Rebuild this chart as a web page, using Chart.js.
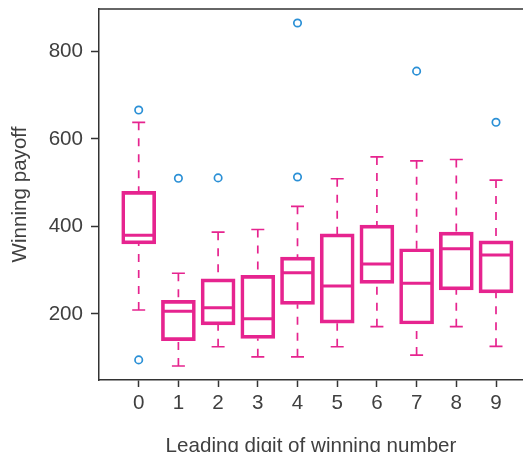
<!DOCTYPE html>
<html>
<head>
<meta charset="utf-8">
<script src="https://cdn.jsdelivr.net/npm/chart.js@4"></script>
<style>
  html, body { margin: 0; padding: 0; background: #fff; }
  #wrap { width: 523px; height: 452px; }
</style>
</head>
<body>
<div id="wrap"><canvas id="box"></canvas></div>
<script>
// leading digit categories and box stats
const digits = [0, 1, 2, 3, 4, 5, 6, 7, 8, 9]
const whiskerLow = [209, 81, 125, 102, 102, 125, 171, 106, 171, 126]
const q1 = [360, 139, 175, 144, 222, 179, 270, 177, 255, 248]
const medians = [380, 206, 214, 189, 294, 264, 314, 270, 349, 335]
const q3 = [480, 231, 280, 288, 330, 383, 403, 349, 387, 367]
const whiskerHigh = [638, 293, 387, 393, 446, 509, 559, 550, 553, 506]
const outlierDigit = [0, 0, 1, 2, 4, 4, 7, 9]
const outlierValue = [666, 95, 510, 511, 865, 513, 755, 638]
const yTicks = [200, 400, 600, 800]

const pink = '#e6248f'
const blue = '#2b90d6'
const ink = '#404040'

Chart.defaults.font.family = "'Liberation Sans', Arial, sans-serif"
Chart.defaults.font.size = 20.6
Chart.defaults.color = ink

// whiskers, caps, medians and the top frame line
const boxExtras = {
  id: 'boxExtras',
  afterDatasetsDraw(chart) {
    const ctx = chart.ctx
    const x = chart.scales.x
    const y = chart.scales.y
    ctx.save()
    ctx.strokeStyle = pink
    digits.forEach((d, i) => {
      const px = x.getPixelForValue(d)
      // dashed whiskers
      ctx.lineWidth = 1.7
      ctx.setLineDash([8, 8])
      ctx.beginPath()
      ctx.moveTo(px, y.getPixelForValue(whiskerHigh[i]))
      ctx.lineTo(px, y.getPixelForValue(q3[i]))
      ctx.moveTo(px, y.getPixelForValue(whiskerLow[i]))
      ctx.lineTo(px, y.getPixelForValue(q1[i]))
      ctx.stroke()
      // caps
      ctx.setLineDash([])
      ctx.beginPath()
      ctx.moveTo(px - 6.5, y.getPixelForValue(whiskerHigh[i]))
      ctx.lineTo(px + 6.5, y.getPixelForValue(whiskerHigh[i]))
      ctx.moveTo(px - 6.5, y.getPixelForValue(whiskerLow[i]))
      ctx.lineTo(px + 6.5, y.getPixelForValue(whiskerLow[i]))
      ctx.stroke()
      // median
      ctx.lineWidth = 3
      ctx.beginPath()
      ctx.moveTo(px - 16, y.getPixelForValue(medians[i]))
      ctx.lineTo(px + 16, y.getPixelForValue(medians[i]))
      ctx.stroke()
    })
    const a = chart.chartArea
    ctx.strokeStyle = '#333'
    ctx.lineWidth = 1.5
    ctx.beginPath()
    ctx.moveTo(a.left, a.top)
    ctx.lineTo(a.right, a.top)
    ctx.stroke()
    ctx.restore()
  }
}

const config = {
  type: 'bar',
  data: {
    datasets: [
      {
        type: 'scatter',
        data: outlierDigit.map((d, i) => ({ x: d, y: outlierValue[i] })),
        pointStyle: 'circle',
        pointRadius: 3.7,
        borderColor: blue,
        backgroundColor: 'rgba(0,0,0,0)',
        borderWidth: 1.7,
      },
      {
        type: 'bar',
        data: digits.map((d, i) => ({ x: d, y: [q1[i], q3[i]] })),
        barThickness: 34,
        grouped: false,
        borderColor: pink,
        backgroundColor: 'rgba(0,0,0,0)',
        borderWidth: 3,
        borderSkipped: false,
      }
    ]
  },
  plugins: [boxExtras],
  options: {
    responsive: true,
    maintainAspectRatio: false,
    animation: false,
    layout: { autoPadding: false, padding: { top: 9, left: 0, right: 0, bottom: 0 } },
    plugins: {
      legend: { display: false },
      tooltip: { enabled: false }
    },
    scales: {
      x: {
        type: 'linear',
        min: -1,
        max: 9.68,
        offset: false,
        afterBuildTicks: (s) => { s.ticks = digits.map(v => ({ value: v })) },
        afterFit: (s) => { s.height = 72; s.paddingLeft = 0; s.paddingRight = 0 },
        ticks: { padding: 4, color: ink },
        grid: { offset: false, drawOnChartArea: false, tickLength: 7, tickColor: '#333', tickWidth: 1.5 },
        border: { display: true, color: '#333', width: 1.5 },
        title: {
          display: true,
          text: 'Leading digit of winning number',
          color: ink,
          padding: { top: 0, bottom: -7 }
        }
      },
      y: {
        type: 'linear',
        min: 49,
        max: 897,
        afterBuildTicks: (s) => { s.ticks = yTicks.map(v => ({ value: v })) },
        afterFit: (s) => { s.width = 99; s.paddingTop = 0; s.paddingBottom = 0 },
        ticks: { padding: 8, color: ink },
        grid: { drawOnChartArea: false, tickLength: 8, tickColor: '#333', tickWidth: 1.5 },
        border: { display: true, color: '#333', width: 1.5 },
        title: {
          display: true,
          text: 'Winning payoff',
          color: ink,
          padding: { top: 8, bottom: 0 }
        }
      }
    }
  }
}

let boxChart = new Chart(document.getElementById('box'), config)
</script>
</body>
</html>
